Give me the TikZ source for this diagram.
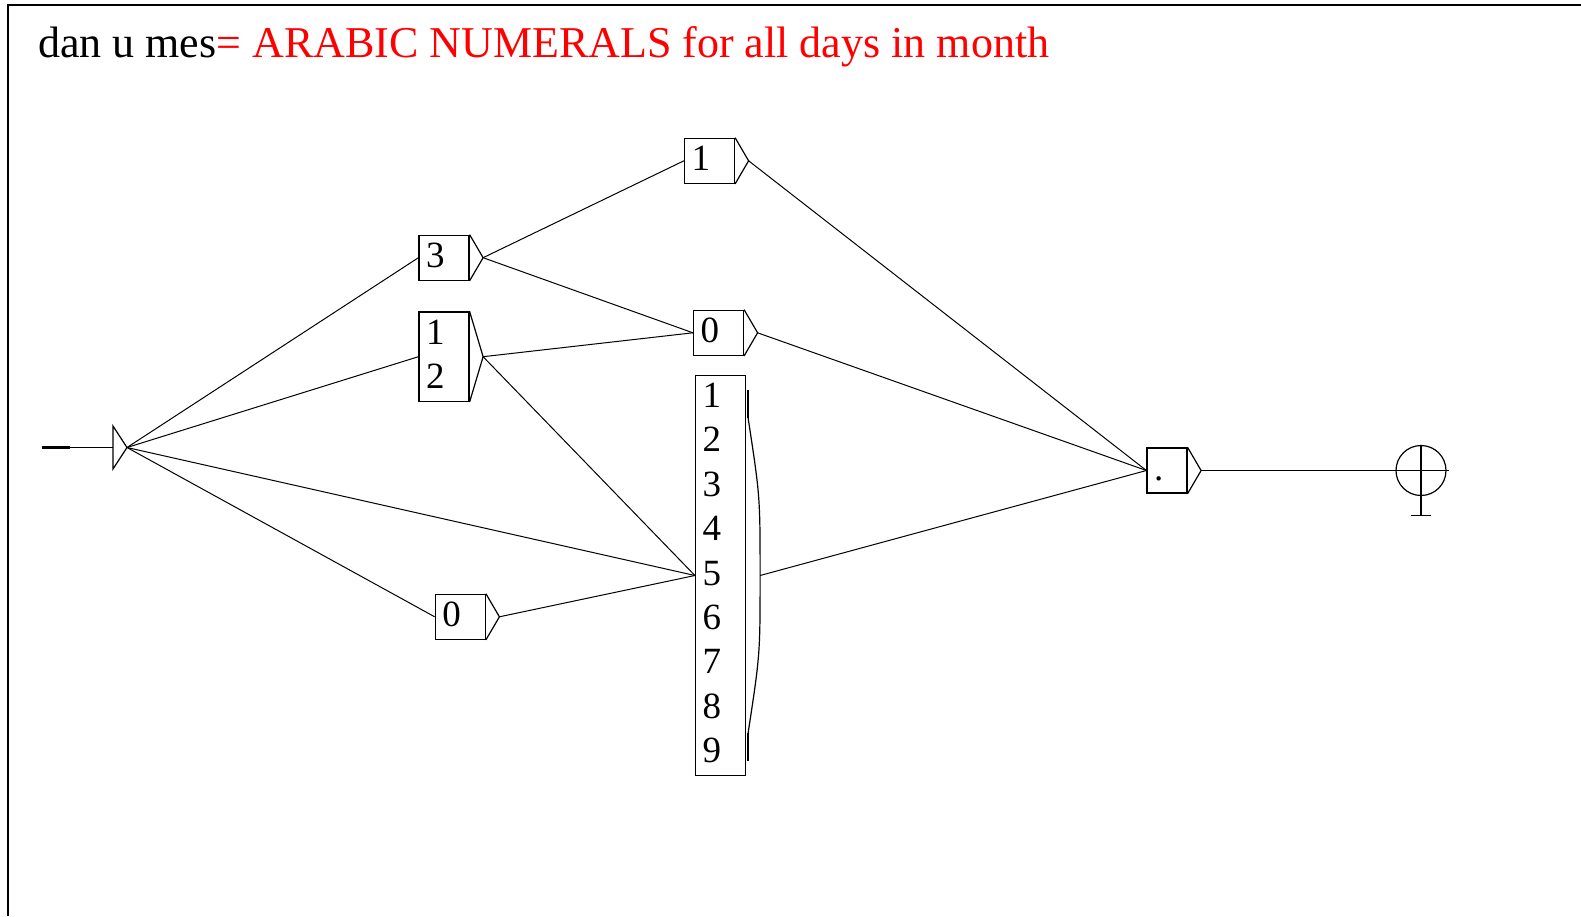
\documentclass[tikz,border=0pt]{standalone}
\usepackage{fontspec}
\setmainfont{Liberation Serif}
\newcommand{\titlesize}{\fontsize{44}{50}\selectfont}
\newcommand{\digitsize}{\fontsize{37}{44.4}\selectfont}

\begin{document}
\begin{tikzpicture}[x=1pt, y=-1pt]
				\tikzset{box/.style={
						draw,
						line width=1.2pt,
						font=\digitsize,
						align=left,
						text width=36pt,
						inner xsep=7pt,
						inner ysep=9pt,
						text height=23pt,
						text depth=4pt
				},
				link/.style={line width=1pt}}
				
				\useasboundingbox (0,0) rectangle (1581,916);
				\draw[line width=2pt] (7.5,916) |- (1581,4.5);
				
				%% TITLE
				\node[anchor=base west, inner sep=0pt, font=\titlesize] (Title) at (38,57.5) {dan u mes\textcolor{red}{= ARABIC NUMERALS for all days in month}};
				
				%% BOXES
				\node[box] (B3) at (444,257.7) {3};
				\node[box, text depth=48.4pt] (B12) at (444,356.7) {1\\2};
				\node[box] (B0low) at (460.3,616.8) {0};
				\node[box] (B1) at (709.5,160.8) {1};
				\node[box] (B0mid) at (718.5,332.8) {0};
				\node[box, text depth=359.2pt] (Big) at (720.5,575.5) {1\\2\\3\\4\\5\\6\\7\\8\\9};
				\node[box, text width=26pt] (Dot) at (1167,470.5) {.};
				\node[draw, circle, line width=1.2pt, minimum size=50pt, inner sep=0pt] (Final) at (1421,470.5) {};
				
				\foreach \b in {B3,B12,B0low,B1,B0mid,Dot}
				\draw[line width=1.2pt] (\b.north east) -- ([xshift=13.5pt]\b.east) coordinate (\b-o) -- (\b.south east);
				\coordinate (Big-o) at ([xshift=14pt]Big.east);
				\draw[line width=1.2pt] ([shift={(2,-157.5)}]Big.east)
				.. controls ([shift={(14,-79)}]Big.east) .. (Big-o)
				.. controls ([shift={(14,79)}]Big.east) .. ([shift={(2,157.5)}]Big.east);
				\draw[line width=2.4pt] ([shift={(2,-185.5)}]Big.east) -- ([shift={(2,-157.5)}]Big.east);
				\draw[line width=2.4pt] ([shift={(2,157.5)}]Big.east) -- ([shift={(2,185.5)}]Big.east);
				
				%% INITIAL STATE
				\coordinate (Start) at (42,447.5);
				\coordinate (InitIn) at (113,447.5);
				\coordinate (Init) at (127,447.5);
				\draw[line width=3pt] (Start) -- (70,447.5);
				\draw[link] (Start) -- (InitIn);
				\draw[line width=1.2pt] (113,426) -- (Init) -- (113,469) -- cycle;
				
				%% FINAL STATE
				\draw[line width=1.2pt] (Final.west) -- ([xshift=2pt]Final.east);
				\draw[line width=1.2pt] (Final.north) -- ([yshift=-19.5pt]Final.south) coordinate (FinBase);
				\draw[line width=1.2pt] ([xshift=-10pt]FinBase) -- ([xshift=10pt]FinBase);
				
				%% TRANSITIONS
				\draw[link] (Init) -- (B3.west);
				\draw[link] (Init) -- (B12.west);
				\draw[link] (Init) -- (Big.west);
				\draw[link] (Init) -- (B0low.west);
				\draw[link] (B3-o) -- (B1.west);
				\draw[link] (B3-o) -- (B0mid.west);
				\draw[link] (B12-o) -- (B0mid.west);
				\draw[link] (B12-o) -- (Big.west);
				\draw[link] (B0low-o) -- (Big.west);
				\draw[link] (B1-o) -- (Dot.west);
				\draw[link] (B0mid-o) -- (Dot.west);
				\draw[link] (Big-o) -- (Dot.west);
				\draw[link] (Dot-o) -- (Final.west);
				
			\end{tikzpicture}
\end{document}
